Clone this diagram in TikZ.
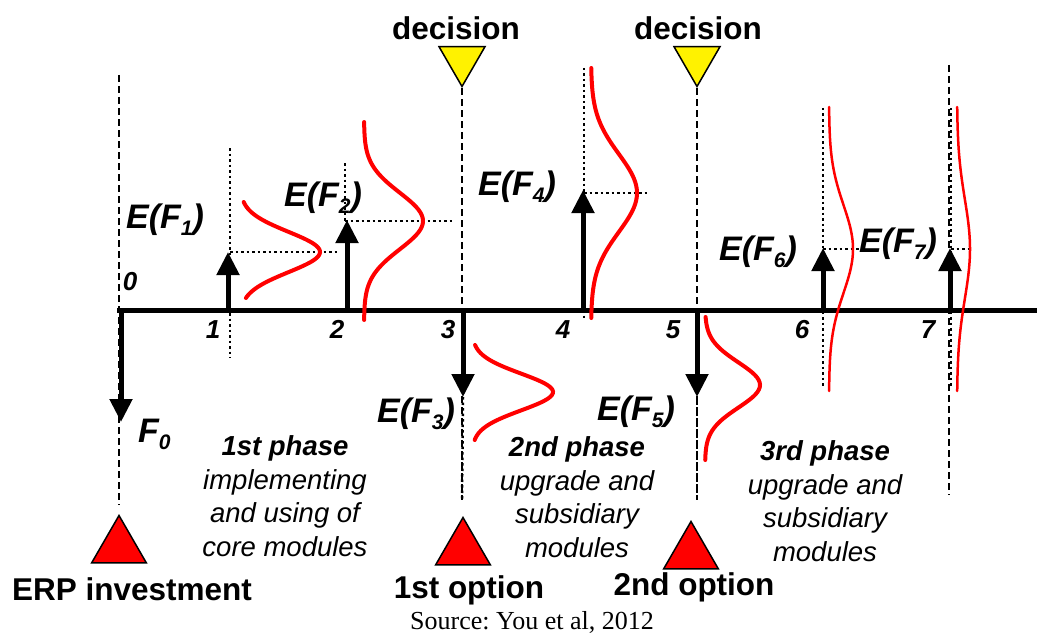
\documentclass[tikz,border=0pt]{standalone}
\usepackage{fontspec}
\setmainfont{Liberation Sans}
\newfontfamily\sourcefont{Liberation Serif}
\usetikzlibrary{arrows.meta,shapes.geometric,positioning}
\frenchspacing

\newcommand{\expflow}[1]{E(F\raisebox{-7pt}{\fontsize{21}{21}\selectfont #1})}

\tikzset{
  axis/.style={line width=5pt},
  flow/.style={line width=5pt,-{Triangle[width=22pt,length=23pt]}},
  guide/.style={line width=1.5pt,dash pattern=on 7pt off 4pt},
  mean/.style={line width=2.5pt,dash pattern=on 2.5pt off 3pt},
  density/.style={red,line width=4pt,line cap=round},
  thindensity/.style={density,line width=2.5pt},
  decision/.style={regular polygon,regular polygon sides=3,shape border rotate=180,
    fill=yellow,draw=black,line width=1.5pt,minimum size=53pt,inner sep=0pt},
  option/.style={regular polygon,regular polygon sides=3,
    fill=red,draw=black,line width=1.5pt,minimum size=63pt,inner sep=0pt},
  ticklbl/.style={font=\fontsize{26}{26}\selectfont\bfseries\itshape,anchor=base,inner sep=0pt},
  flowlbl/.style={font=\fontsize{34}{34}\selectfont\bfseries\itshape,anchor=base west,inner sep=0pt},
  title/.style={font=\fontsize{31.5}{31.5}\selectfont\bfseries,anchor=base,inner sep=0pt},
  phase/.style={font=\fontsize{27.5}{33.5}\selectfont\itshape,align=center,anchor=base,inner sep=0pt},
}

\begin{document}
\begin{tikzpicture}[x=1pt,y=-1pt,declare function={bell(\u)=exp(0-\u*\u);}]
  \useasboundingbox (0,0) rectangle (1037,634);
  % time line and cash flow ends
  \coordinate (start) at (117,310);
  \coordinate (end) at (1037,310);
  \foreach \n/\x in {0/121,1/228,2/347,3/463,4/583,5/697,6/823,7/950}
    \coordinate (t\n) at (\x,310);
  \coordinate (f0) at (121,422);
  \coordinate (f1) at (228,252);
  \coordinate (f2) at (347,220);
  \coordinate (f3) at (463,397);
  \coordinate (f4) at (583,190);
  \coordinate (f5) at (697,397);
  \coordinate (f6) at (823,248);
  \coordinate (f7) at (950,248);

  % decisions and options
  \node[decision] (dec1) at (462,60) {};
  \node[decision] (dec2) at (697,60) {};
  \node[option] (erp) at (119,547) {};
  \node[option] (opt1) at (463,549) {};
  \node[option] (opt2) at (691,553) {};
  \node[title] (dec1lbl) at (456,40) {decision};
  \node[title] (dec2lbl) at (698,40) {decision};
  \node[title] (erplbl) at (132,600) {ERP investment};
  \node[title] (opt1lbl) at (469,598) {1st option};
  \node[title] (opt2lbl) at (694,595) {2nd option};

  % guide lines
  \coordinate (g0a) at (119,75);
  \coordinate (g0b) at (119,505);
  \coordinate (g3b) at (462,500);
  \coordinate (g5b) at (697,500);
  \coordinate (g7a) at (949,65);
  \coordinate (g7b) at (949,495);
  \draw[guide] (g0a) -- (g0b);
  \draw[guide] (dec1) -- (g3b);
  \draw[guide] (dec2) -- (g5b);
  \draw[guide] (g7a) -- (g7b);

  % expected values
  \draw[mean] (230,148) -- (230,358);
  \draw[mean] (345,163) -- (345,221);
  \draw[mean] (584,68) -- (584,318);
  \draw[mean] (823,108) -- (823,388);
  \draw[mean] (951,108) -- (951,388);
  \draw[mean] (f3) -- (g3b);
  \draw[mean] (f5) -- (g5b);
  \draw[mean] (230,252) -- (338,252);
  \draw[mean] (345,221) -- (453,221);
  \draw[mean] (584,193) -- (648,193);
  \draw[mean] (823,249) -- (863,249);
  \draw[mean] (951,249) -- (970,249);

  \draw[axis] (start) -- (end);

  % distributions
  \draw[density] plot[domain=202:298,samples=60,variable=\t] ({240+80*bell((\t-252)/28.5)},\t);
  \draw[density] plot[domain=122:320,samples=80,variable=\t] ({364+59*bell((\t-221)/40)},\t);
  \draw[density] plot[domain=345:440,samples=60,variable=\t] ({472+81*bell((\t-392)/26)},\t);
  \draw[density] plot[domain=68:318,samples=80,variable=\t] ({591+46*bell((\t-193)/55)},\t);
  \draw[density] plot[domain=317:460,samples=60,variable=\t] ({705+55*bell((\t-385)/32)},\t);
  \draw[thindensity] plot[domain=107:391,samples=80,variable=\t] ({829+24*bell((\t-249)/62)},\t);
  \draw[thindensity] plot[domain=107:391,samples=80,variable=\t] ({957+13*bell((\t-249)/70)},\t);

  % cash flows
  \foreach \n in {0,...,7}
    \draw[flow] (t\n) -- (f\n);

  % labels
  \node[ticklbl] (l0) at (130,290) {0};
  \foreach \n/\x in {1/213,2/337,3/448,4/563,5/673,6/802,7/928}
    \node[ticklbl] (l\n) at (\x,338) {\n};
  \node[flowlbl] (e0) at (138,442) {F\raisebox{-7pt}{\fontsize{21}{21}\selectfont 0}};
  \node[flowlbl] (e1) at (126,228) {\expflow{1}};
  \node[flowlbl] (e2) at (284,206) {\expflow{2}};
  \node[flowlbl] (e3) at (377,422) {\expflow{3}};
  \node[flowlbl] (e4) at (478,195) {\expflow{4}};
  \node[flowlbl] (e5) at (597,420) {\expflow{5}};
  \node[flowlbl] (e6) at (719,260) {\expflow{6}};
  \node[flowlbl] (e7) at (859,252) {\expflow{7}};

  % phases (base is the last line)
  \node[phase] (ph1) at (285,556) {\textbf{1st phase}\\implementing\\and using of\\core modules};
  \node[phase] (ph2) at (577,557) {\textbf{2nd phase}\\upgrade and\\subsidiary\\modules};
  \node[phase] (ph3) at (825,561) {\textbf{3rd phase}\\upgrade and\\subsidiary\\modules};

  \node[font=\sourcefont\fontsize{26}{26}\selectfont,anchor=base,inner sep=0pt] (src) at (532,629) {Source: You et al, 2012};
\end{tikzpicture}
\end{document}
